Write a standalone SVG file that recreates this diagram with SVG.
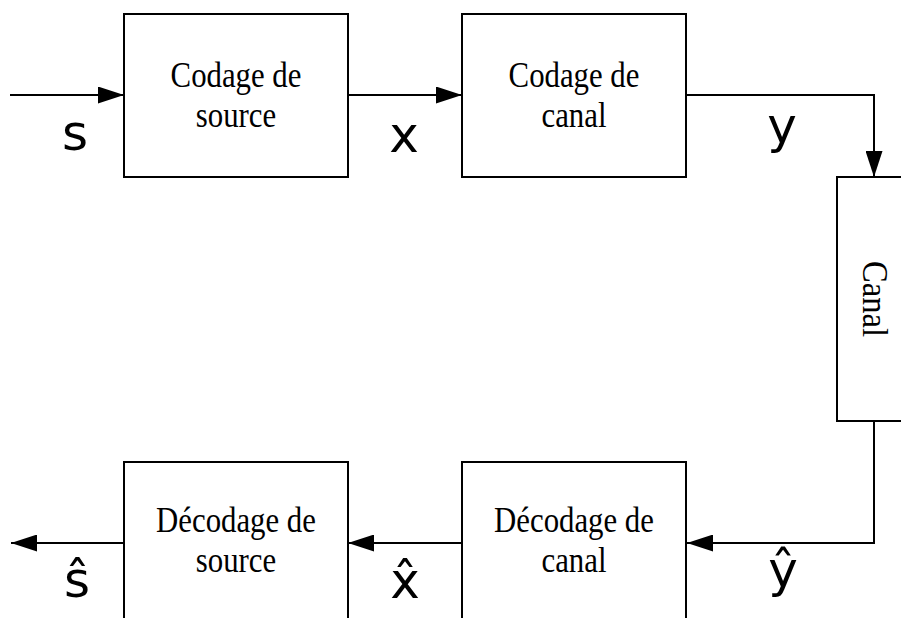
<svg xmlns="http://www.w3.org/2000/svg" width="901" height="618" viewBox="0 0 901 618">
<style>
.box{fill:#fff;stroke:#000;stroke-width:2}
.lbl{font-family:"Liberation Serif","Times New Roman",serif;font-size:35px;text-anchor:middle;fill:#000}
.var{font-family:"DejaVu Sans","Liberation Sans",sans-serif;font-size:50px;text-anchor:middle;fill:#000}
.wire{fill:none;stroke:#000;stroke-width:2}
</style>
<defs>
<marker id="ah" markerUnits="userSpaceOnUse" markerWidth="26" markerHeight="17" refX="26" refY="8.5" orient="auto" viewBox="0 0 26 17">
<path d="M0,0 L26,8.5 L0,17 z" fill="#000"/>
</marker>
</defs>
<g id="n-codage-source">
<rect class="box" x="124" y="14" width="224" height="163"/>
<text class="lbl" transform="translate(236,87) scale(0.88,1)">Codage de</text>
<text class="lbl" transform="translate(236,127) scale(0.88,1)">source</text>
</g>
<g id="n-codage-canal">
<rect class="box" x="462" y="14" width="224" height="163"/>
<text class="lbl" transform="translate(574,87) scale(0.88,1)">Codage de</text>
<text class="lbl" transform="translate(574,127) scale(0.88,1)">canal</text>
</g>
<g id="n-canal">
<rect class="box" x="837" y="177" width="80" height="244"/>
<text class="lbl" transform="translate(863,299) rotate(90) scale(0.93,1)">Canal</text>
</g>
<g id="n-decodage-canal">
<rect class="box" x="462" y="462" width="224" height="163"/>
<text class="lbl" transform="translate(574,532) scale(0.88,1)">Décodage de</text>
<text class="lbl" transform="translate(574,572) scale(0.88,1)">canal</text>
</g>
<g id="n-decodage-source">
<rect class="box" x="124" y="462" width="224" height="163"/>
<text class="lbl" transform="translate(236,532) scale(0.88,1)">Décodage de</text>
<text class="lbl" transform="translate(236,572) scale(0.88,1)">source</text>
</g>
<g id="connectors">
<path class="wire" d="M10,95 H124" marker-end="url(#ah)"/>
<path class="wire" d="M348,95 H462" marker-end="url(#ah)"/>
<path class="wire" d="M686,95 H874 V177" marker-end="url(#ah)"/>
<path class="wire" d="M874,421 V543 H687" marker-end="url(#ah)"/>
<path class="wire" d="M462,543 H348" marker-end="url(#ah)"/>
<path class="wire" d="M124,543 H11" marker-end="url(#ah)"/>
</g>
<g id="labels">
<text class="var" x="75" y="150">s</text>
<text class="var" x="404" y="152">x</text>
<text class="var" x="782" y="143">y</text>
<text class="var" x="77" y="597">ŝ</text>
<text class="var" x="405" y="598">x̂</text>
<text class="var" x="783" y="587">ŷ</text>
</g>
</svg>
